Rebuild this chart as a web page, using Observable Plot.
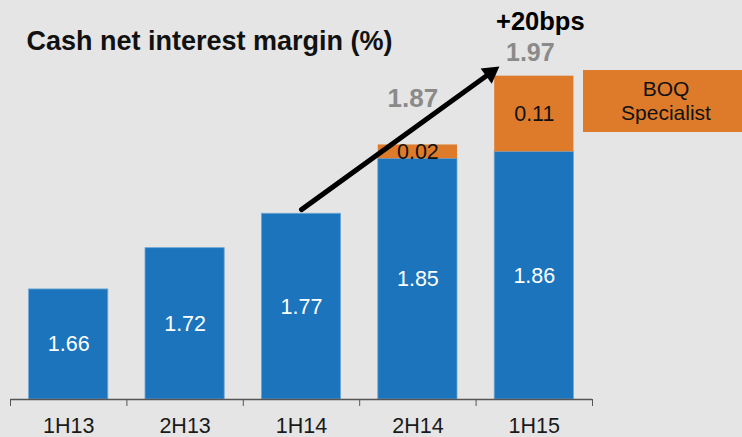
<!DOCTYPE html>
<html>
<head>
<meta charset="utf-8">
<script src="https://cdn.jsdelivr.net/npm/d3@7"></script>
<script src="https://cdn.jsdelivr.net/npm/@observablehq/plot@0.6"></script>
<style>
  html, body { margin: 0; padding: 0; background: #e4e5e4; overflow: hidden; }
  #wrap { position: relative; width: 742px; height: 437px; font-family: "Liberation Sans", Arial, sans-serif; }
  #legend { position: absolute; left: 583px; top: 70px; width: 166px; height: 62px;
    background: #dd7b2b; color: #111; font-size: 21px; line-height: 24px;
    display: flex; align-items: center; justify-content: center; text-align: center; }
</style>
</head>
<body>
<div id="wrap"><div id="legend"></div></div>
<script>
// ---- data ----
const periods = ["1H13", "2H13", "1H14", "2H14", "1H15"];
const coreNim = [1.66, 1.72, 1.77, 1.85, 1.86];
const specialistNim = [0, 0, 0, 0.02, 0.11];
const totalLabels = [null, null, null, "1.87", "1.97"];
const changeLabel = "+20bps";
const titleText = "Cash net interest margin (%)";
const legendText = ["BOQ", "Specialist"];
const arrowPath = [{x: 2, y: 1.776}, {x: 3.7, y: 1.984}];
const yBase = 1.5;

const blue = "#1c75bc", orange = "#dd7b2b", grey = "#8a8a8a";

const rows = periods.map((p, i) => ({
  i, period: p, core: coreNim[i], spec: specialistNim[i],
  total: +(coreNim[i] + specialistNim[i]).toFixed(2), totalLabel: totalLabels[i]
}));
const bounds = d3.range(periods.length + 1).map(k => k - 0.5);
const inset = 18.6;

const chart = Plot.plot({
  width: 742, height: 437,
  marginLeft: 10, marginRight: 150, marginTop: 0, marginBottom: 38,
  style: {background: "#e4e5e4", fontFamily: "\"Liberation Sans\", Arial, sans-serif", color: "#111"},
  x: {domain: [-0.5, periods.length - 0.5]},
  y: {domain: [yBase, 2.08], axis: null},
  marks: [
    Plot.rectY(rows, {x1: d => d.i - 0.5, x2: d => d.i + 0.5, y1: yBase, y2: "core",
      fill: blue, stroke: "#6ea6d8", strokeWidth: 0.8, insetLeft: inset, insetRight: inset}),
    Plot.rectY(rows.filter(d => d.spec > 0), {x1: d => d.i - 0.5, x2: d => d.i + 0.5,
      y1: "core", y2: "total", fill: orange, insetLeft: inset, insetRight: inset}),
    Plot.ruleY([yBase], {stroke: "#555", strokeWidth: 1.5}),
    Plot.axisX({ticks: bounds, tickSize: 7, tickFormat: () => "", stroke: "#555", label: null}),
    Plot.axisX({ticks: d3.range(periods.length), tickSize: 0, tickPadding: 18,
      tickFormat: i => periods[i], fontSize: 21.5, fill: "#1a1a1a", label: null}),
    Plot.text(rows, {x: "i", y: d => (yBase + d.core) / 2, text: d => d.core.toFixed(2),
      fill: "white", fontSize: 21.5, lineAnchor: "middle"}),
    Plot.text(rows.filter(d => d.spec > 0), {x: "i", y: d => d.core + d.spec / 2,
      text: d => d.spec.toFixed(2), fill: "#111", fontSize: 21.5, lineAnchor: "middle"}),
    Plot.text(rows.filter(d => d.period === "2H14"), {x: "i", y: "total", text: "totalLabel",
      fill: grey, fontSize: 26, fontWeight: "bold", lineAnchor: "bottom", dy: -38, dx: -5}),
    Plot.text(rows.filter(d => d.period === "1H15"), {x: "i", y: "total", text: "totalLabel",
      fill: grey, fontSize: 25, fontWeight: "bold", lineAnchor: "bottom", dy: -15, dx: -4}),
    Plot.text(rows.filter(d => d.period === "1H15"), {x: "i", y: "total", text: () => changeLabel,
      fill: "#000", fontSize: 25.5, fontWeight: "bold", lineAnchor: "bottom", dy: -46, dx: 6}),
    Plot.arrow([arrowPath], {x1: d => d[0].x, y1: d => d[0].y, x2: d => d[1].x, y2: d => d[1].y,
      stroke: "#000", strokeWidth: 5, headLength: 0, insetEnd: 12}),
    Plot.dot([arrowPath[1]], {x: "x", y: "y", symbol: "triangle", r: 7, rotate: 54,
      fill: "#000", stroke: null, dx: -8.8, dy: 6.4}),
    Plot.text([titleText], {frameAnchor: "top-left", dx: 16, dy: 49, lineAnchor: "bottom",
      textAnchor: "start", fontSize: 27, fontWeight: "bold", fill: "#111"})
  ]
});
const wrap = document.getElementById("wrap");
wrap.insertBefore(chart, wrap.firstChild);
document.getElementById("legend").innerHTML = legendText.join("<br>");
</script>
</body>
</html>
